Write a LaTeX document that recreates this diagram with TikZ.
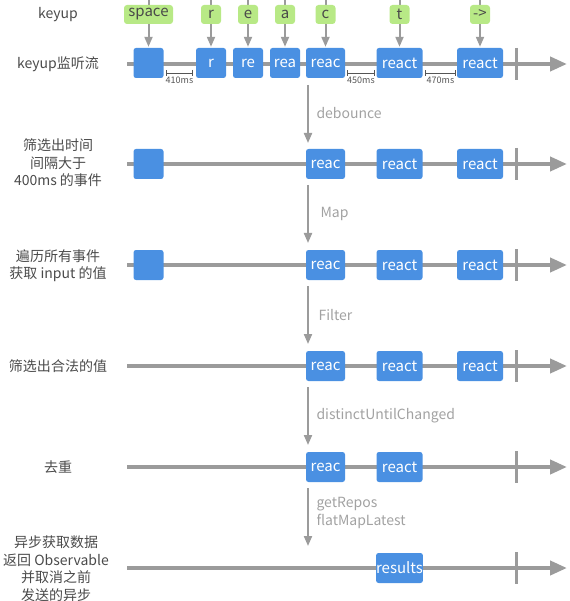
\documentclass[tikz,border=0pt]{standalone}
\usepackage{fontspec}
\setmainfont{Noto Sans CJK SC}
\usetikzlibrary{arrows.meta}
\definecolor{evblue}{HTML}{4A90E2}
\definecolor{keygreen}{HTML}{B8E986}
\definecolor{lanegray}{HTML}{9B9B9B}
\definecolor{labelgray}{HTML}{4A4A4A}
\definecolor{opgray}{HTML}{A2A2A2}
\definecolor{gapgray}{HTML}{555555}

\begin{document}
\begin{tikzpicture}[x=1pt, y=-1pt,
  lane/.style={draw=lanegray, line width=4pt, -{Triangle[length=17pt, width=14pt]}},
  laneend/.style={draw=lanegray, line width=3pt},
  ev/.style={fill=evblue, rounded corners=2.5pt, text=white, minimum height=30pt,
    inner sep=0pt, font=\fontsize{15}{17}\selectfont},
  keylbl/.style={fill=keygreen, rounded corners=3pt, text=labelgray, minimum height=19pt,
    inner sep=0pt, font=\fontsize{15}{17}\selectfont},
  flow/.style={draw=lanegray, line width=2pt, -{Triangle[length=10pt, width=8pt]}},
  oplbl/.style={anchor=west, text=opgray, align=left, font=\fontsize{14}{18}\selectfont},
  rowlbl/.style={text=labelgray, align=center, font=\fontsize{14}{17.5}\selectfont},
  gap/.style={draw=gapgray, line width=0.8pt, {Bar[width=6pt]}-{Bar[width=6pt]}},
  gaplbl/.style={text=gapgray, font=\fontsize{9}{10}\selectfont}]
  \useasboundingbox (0,0) rectangle (569,601);
  % Timelines with end marks
  \foreach \y in {64,164,265,366,467,568} {
    \draw[lane] (127,\y) -- (567,\y);
    \draw[laneend] (516,\y-16) -- (516,\y+16);
  }
  % Row labels
  \node[rowlbl] (n0) at (58,15) {keyup};
  \node[rowlbl] (n1) at (58,64) {keyup监听流};
  \node[rowlbl] (n2) at (58,163) {筛选出时间\\间隔大于\\400ms 的事件};
  \node[rowlbl] (n3) at (58,265.5) {遍历所有事件\\获取 input 的值};
  \node[rowlbl] (n4) at (58,366) {筛选出合法的值};
  \node[rowlbl] (n5) at (58,467) {去重};
  \node[rowlbl] (n6) at (56,568.5) {异步获取数据\\返回 Observable\\并取消之前\\发送的异步};
  % Row 1: keyup stream
  \node[ev, minimum width=30pt] (b1-0) at (148.5,63) {};
  \node[ev, minimum width=30pt] (b1-1) at (211,63) {r};
  \node[ev, minimum width=30pt] (b1-2) at (248,63) {re};
  \node[ev, minimum width=30pt] (b1-3) at (285,63) {rea};
  \node[ev, minimum width=39pt] (b1-4) at (325.5,63) {reac};
  \node[ev, minimum width=46pt] (b1-5) at (399.5,63) {react};
  \node[ev, minimum width=46pt] (b1-6) at (480,63) {react};
  % Keys
  \foreach \lbl/\px/\bx/\kw in {space/148.5/b1-0/49, r/211/b1-1/20, e/248/b1-2/20,
      a/285/b1-3/20, c/325.5/b1-4/20, t/399.5/b1-5/20, ->/480/b1-6/20} {
    \coordinate (top-\bx) at (\px,0);
    \draw[flow, shorten >=1pt] (top-\bx) -- (\bx);
    \node[keylbl, minimum width=\kw pt] (k-\bx) at (\px,14.5) {\lbl};
  }
  % Gaps between keys
  \coordinate (g1a) at (166,73); \coordinate (g1b) at (193,73);
  \coordinate (g2a) at (347,73); \coordinate (g2b) at (375,73);
  \coordinate (g3a) at (425,73); \coordinate (g3b) at (456,73);
  \draw[gap] (g1a) -- (g1b) node[gaplbl, midway, below=0.5pt] {410ms};
  \draw[gap] (g2a) -- (g2b) node[gaplbl, midway, below=0.5pt] {450ms};
  \draw[gap] (g3a) -- (g3b) node[gaplbl, midway, below=0.5pt] {470ms};
  % Row 2: debounce
  \node[ev, minimum width=30pt] (b2-0) at (148.5,164) {};
  \node[ev, minimum width=39pt] (b2-1) at (325.5,164) {reac};
  \node[ev, minimum width=46pt] (b2-2) at (399.5,164) {react};
  \node[ev, minimum width=46pt] (b2-3) at (480,164) {react};
  % Row 3: map
  \node[ev, minimum width=30pt] (b3-0) at (148.5,265) {};
  \node[ev, minimum width=39pt] (b3-1) at (325.5,265) {reac};
  \node[ev, minimum width=46pt] (b3-2) at (399.5,265) {react};
  \node[ev, minimum width=46pt] (b3-3) at (480,265) {react};
  % Row 4: filter
  \node[ev, minimum width=39pt] (b4-1) at (325.5,366) {reac};
  \node[ev, minimum width=46pt] (b4-2) at (399.5,366) {react};
  \node[ev, minimum width=46pt] (b4-3) at (480,366) {react};
  % Row 5: distinct
  \node[ev, minimum width=39pt] (b5-1) at (325.5,467) {reac};
  \node[ev, minimum width=46pt] (b5-2) at (399.5,467) {react};
  % Row 6: results
  \node[ev, minimum width=46pt] (b6-1) at (399.5,568) {results};
  % Operators
  \foreach \i/\y in {1/64, 2/164, 3/265, 4/366, 5/467} {
    \coordinate (op\i a) at (308,\y+21);
    \coordinate (op\i b) at (308,\y+79);
    \draw[flow] (op\i a) -- (op\i b);
  }
  \node[oplbl] (o1) at (313,113) {debounce};
  \node[oplbl] (o2) at (317,214) {Map};
  \node[oplbl] (o3) at (315,315) {Filter};
  \node[oplbl] (o4) at (313,416) {distinctUntilChanged};
  \node[oplbl] (o5) at (313,513) {getRepos\\flatMapLatest};
\end{tikzpicture}
\end{document}
